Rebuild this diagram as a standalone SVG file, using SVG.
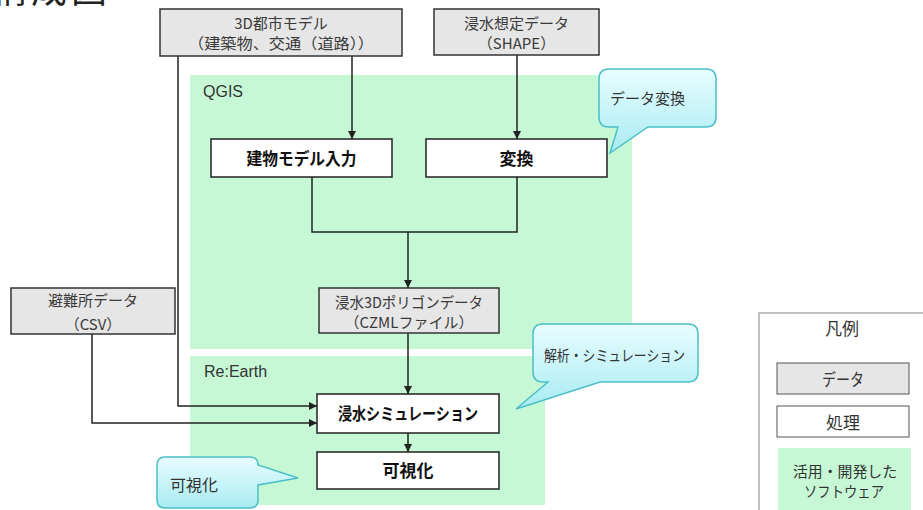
<svg xmlns="http://www.w3.org/2000/svg" width="923" height="510" viewBox="0 0 923 510">
<style>
.jp{font-family:"Noto Sans CJK JP","Liberation Sans",sans-serif;}
.lat{font-family:"Liberation Sans",Arial,sans-serif;}
.t{font-size:15px;fill:#3a3a3a;text-anchor:middle;}
.b{font-size:17px;font-weight:bold;fill:#111;text-anchor:middle;}
.lg{font-size:17px;fill:#333;text-anchor:middle;}
.lg15{font-size:15px;}
.data{fill:#e6e6e6;stroke:#333;stroke-width:1.5;}
.proc{fill:#fff;stroke:#222;stroke-width:1.5;}
.zone{fill:#c6f8d5;}
.conn{fill:none;stroke:#222;stroke-width:1.5;}
.callout{fill:url(#cg);stroke:#4bbfc8;stroke-width:1.5;}
.ct{font-size:15px;fill:#333;}
.ct16{font-size:16px;}
</style>
<defs>
<marker id="arr" markerUnits="userSpaceOnUse" markerWidth="9" markerHeight="8" refX="8" refY="4" orient="auto">
<path d="M0,0 L8,4 L0,8 Z" fill="#222"/>
</marker>
<linearGradient id="cg" x1="0" y1="0" x2="0" y2="1">
<stop offset="0" stop-color="#e8fdff"/>
<stop offset="1" stop-color="#a8ebf2"/>
</linearGradient>
</defs>
<rect width="923" height="510" fill="#fff"/>
<text class="jp" x="-9" y="3" font-size="36" letter-spacing="4" fill="#222">構成図</text>

<g id="zone-qgis">
<rect class="zone" x="190" y="75" width="442" height="274"/>
<text class="lat" x="203" y="97" font-size="16" fill="#333">QGIS</text>
</g>
<g id="zone-reearth">
<rect class="zone" x="190" y="356" width="355" height="149"/>
<text class="lat" x="204" y="377" font-size="16" fill="#333">Re:Earth</text>
</g>

<g id="connectors">
<path class="conn" d="M352,56 V139" marker-end="url(#arr)"/>
<path class="conn" d="M517,55 V139" marker-end="url(#arr)"/>
<path class="conn" d="M312,177 V232 H408"/>
<path class="conn" d="M517,177 V232 H408"/>
<path class="conn" d="M408,232 V288" marker-end="url(#arr)"/>
<path class="conn" d="M408,333 V394" marker-end="url(#arr)"/>
<path class="conn" d="M408,433 V452" marker-end="url(#arr)"/>
<path class="conn" d="M178,56 V406 H317" marker-end="url(#arr)"/>
<path class="conn" d="M92,334 V423 H317" marker-end="url(#arr)"/>
</g>

<g id="node-3d-city">
<rect class="data" x="160" y="9" width="242" height="47"/>
<text class="jp t" x="281" y="29">3D都市モデル</text>
<text class="jp t" x="281" y="49" textLength="186" lengthAdjust="spacingAndGlyphs">（建築物、交通（道路））</text>
</g>
<g id="node-flood-data">
<rect class="data" x="434" y="9" width="165" height="46"/>
<text class="jp t" x="516.5" y="29">浸水想定データ</text>
<text class="jp t" x="516.5" y="49">（SHAPE）</text>
</g>
<g id="node-building-input">
<rect class="proc" x="211" y="139" width="181" height="38"/>
<text class="jp b" x="301.5" y="165" textLength="110" lengthAdjust="spacingAndGlyphs">建物モデル入力</text>
</g>
<g id="node-convert">
<rect class="proc" x="426" y="139" width="181" height="38"/>
<text class="jp b" x="516.5" y="165">変換</text>
</g>
<g id="node-polygon">
<rect class="data" x="319" y="288" width="180" height="45"/>
<text class="jp t" x="409" y="308" textLength="148" lengthAdjust="spacingAndGlyphs">浸水3Dポリゴンデータ</text>
<text class="jp t" x="409" y="328">（CZMLファイル）</text>
</g>
<g id="node-shelter">
<rect class="data" x="11" y="288" width="164" height="46"/>
<text class="jp t" x="93" y="306">避難所データ</text>
<text class="jp t" x="93" y="330">（CSV）</text>
</g>
<g id="node-simulation">
<rect class="proc" x="317" y="394" width="182" height="39"/>
<text class="jp b" x="408" y="420" textLength="140" lengthAdjust="spacingAndGlyphs">浸水シミュレーション</text>
</g>
<g id="node-visualize">
<rect class="proc" x="317" y="452" width="182" height="37"/>
<text class="jp b" x="408" y="477">可視化</text>
</g>

<g id="callout-convert">
<path class="callout" d="M609,69 H706 Q716,69 716,79 V117 Q716,127 706,127 H648 L610,153 L618,127 H609 Q599,127 599,117 V79 Q599,69 609,69 Z"/>
<text class="jp ct" x="610" y="104">データ変換</text>
</g>
<g id="callout-analysis">
<path class="callout" d="M543,324 H688 Q698,324 698,334 V372 Q698,382 688,382 H600 L516,409 L548,382 H543 Q533,382 533,372 V334 Q533,324 543,324 Z"/>
<text class="jp ct" x="544" y="361" textLength="141" lengthAdjust="spacingAndGlyphs">解析・シミュレーション</text>
</g>
<g id="callout-visualize">
<path class="callout" d="M165,457 H250 Q258,457 258,465 L298,478 L258,485 V500 Q258,508 250,508 H165 Q157,508 157,500 V465 Q157,457 165,457 Z"/>
<text class="jp ct ct16" x="170" y="491">可視化</text>
</g>

<g id="legend">
<rect x="759" y="313" width="180" height="210" fill="#fff" stroke="#999" stroke-width="1.2"/>
<text class="jp lg" x="842" y="335">凡例</text>
<rect x="777" y="363" width="132" height="31" fill="#e6e6e6" stroke="#555" stroke-width="1"/>
<text class="jp lg" x="843" y="386" textLength="42" lengthAdjust="spacingAndGlyphs">データ</text>
<rect x="777" y="406" width="132" height="31" fill="#fff" stroke="#555" stroke-width="1"/>
<text class="jp lg" x="843" y="429">処理</text>
<rect class="zone" x="778" y="448" width="133" height="62"/>
<text class="jp lg lg15" x="845" y="477" textLength="104" lengthAdjust="spacingAndGlyphs">活用・開発した</text>
<text class="jp lg lg15" x="844" y="497" textLength="80" lengthAdjust="spacingAndGlyphs">ソフトウェア</text>
</g>
</svg>
